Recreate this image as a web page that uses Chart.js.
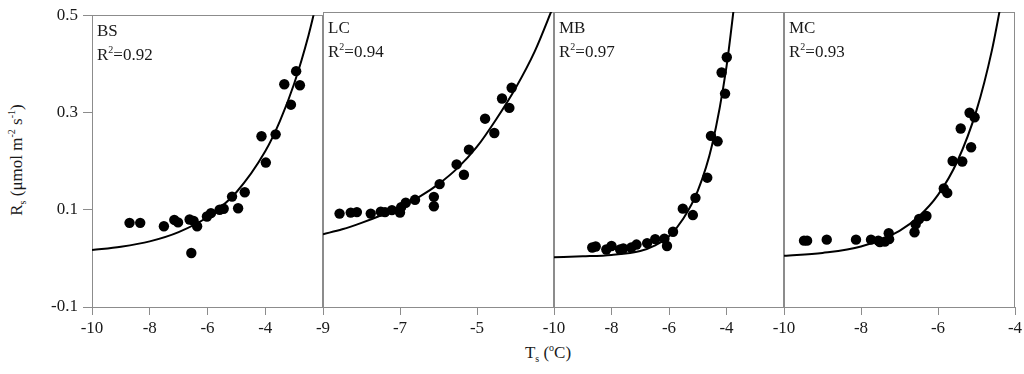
<!DOCTYPE html>
<html>
<head>
<meta charset="utf-8">
<script src="https://cdn.jsdelivr.net/npm/chart.js"></script>
<style>
    body { margin: 0; background: #fff; width: 1024px; height: 374px; overflow: hidden; position: relative; font-family: "Liberation Serif", serif; color: #1a1a1a; }
    canvas { position: absolute; top: 0; }
    #ytitle { position: absolute; left: 17px; top: 160px; transform: translate(-50%, -50%) rotate(-90deg); white-space: nowrap; font-size: 17px; }
    #xtitle { position: absolute; left: 548px; top: 342px; transform: translateX(-50%); white-space: nowrap; font-size: 17px; }
    sub, sup { font-size: 10px; }
</style>
</head>
<body>
<div id="ytitle">R<sub>s</sub> (μmol m<sup>-2</sup> s<sup>-1</sup>)</div>
<div id="xtitle">T<sub>s</sub> (<sup>o</sup>C)</div>
<script>
// soil respiration vs soil temperature, four sites
const siteNames = ['BS', 'LC', 'MB', 'MC'];
const siteR2 = ['0.92', '0.94', '0.97', '0.93'];
const yTicks = [-0.1, 0.1, 0.3, 0.5];

const bsTicks = [-10, -8, -6, -4];
const bsTemp = [-8.70, -8.33, -7.51, -7.15, -7.02, -6.62, -6.48, -6.36, -6.56, -6.02, -5.88, -5.58, -5.44, -5.15, -4.94, -4.71, -4.13, -3.98, -3.64, -3.34, -3.11, -2.93, -2.80];
const bsRs = [0.073, 0.073, 0.066, 0.079, 0.074, 0.080, 0.077, 0.066, 0.011, 0.086, 0.093, 0.100, 0.102, 0.127, 0.103, 0.136, 0.251, 0.197, 0.255, 0.358, 0.316, 0.385, 0.356];
const bsFitT = [-10, -9, -8, -7, -6, -5, -4, -3.5, -3, -2.5, -2.2];
const bsFitRs = [0.017, 0.024, 0.035, 0.054, 0.085, 0.136, 0.220, 0.281, 0.359, 0.459, 0.532];

const lcTicks = [-9, -7, -5];
const lcTemp = [-8.57, -8.28, -8.12, -7.76, -7.50, -7.39, -7.21, -7.00, -6.97, -6.85, -6.61, -6.12, -6.12, -5.97, -5.53, -5.34, -5.21, -4.79, -4.55, -4.35, -4.16, -4.10];
const lcRs = [0.090, 0.092, 0.093, 0.090, 0.094, 0.093, 0.097, 0.092, 0.103, 0.112, 0.118, 0.124, 0.105, 0.150, 0.190, 0.169, 0.220, 0.283, 0.254, 0.324, 0.305, 0.346];
const lcFitT = [-9, -8.5, -8, -7.5, -7, -6.5, -6, -5.5, -5, -4.5, -4, -3.5, -3];
const lcFitRs = [0.048, 0.058, 0.071, 0.086, 0.103, 0.124, 0.150, 0.183, 0.226, 0.282, 0.345, 0.420, 0.515];

const mbTicks = [-10, -8, -6, -4];
const mbTemp = [-8.67, -8.55, -8.18, -8.00, -7.70, -7.59, -7.31, -7.13, -6.76, -6.48, -6.16, -6.07, -5.86, -5.52, -5.17, -5.08, -4.67, -4.54, -4.31, -4.17, -4.05, -3.99];
const mbRs = [0.021, 0.023, 0.017, 0.024, 0.017, 0.019, 0.021, 0.027, 0.030, 0.038, 0.039, 0.024, 0.053, 0.100, 0.087, 0.122, 0.163, 0.248, 0.237, 0.377, 0.334, 0.408];
const mbFitT = [-10, -9, -8, -7, -6.5, -6, -5.5, -5, -4.5, -4, -3.7];
const mbFitRs = [0.001, 0.003, 0.006, 0.014, 0.025, 0.044, 0.080, 0.136, 0.230, 0.389, 0.530];

const mcTicks = [-10, -8, -6, -4];
const mcTemp = [-9.48, -9.40, -8.89, -8.13, -7.74, -7.55, -7.51, -7.38, -7.28, -7.27, -6.61, -6.58, -6.49, -6.30, -5.85, -5.76, -5.62, -5.37, -5.41, -5.14, -5.18, -5.05];
const mcRs = [0.035, 0.035, 0.037, 0.037, 0.037, 0.035, 0.032, 0.033, 0.050, 0.038, 0.052, 0.068, 0.079, 0.085, 0.141, 0.132, 0.197, 0.196, 0.263, 0.225, 0.295, 0.286];
const mcFitT = [-10, -9, -8, -7, -6.5, -6, -5.5, -5, -4.6, -4.3];
const mcFitRs = [0.004, 0.010, 0.023, 0.055, 0.084, 0.128, 0.196, 0.300, 0.422, 0.544];

const panels = [
    { temp: bsTemp, rs: bsRs, fitT: bsFitT, fitRs: bsFitRs, ticks: bsTicks, min: -10, max: -2 },
    { temp: lcTemp, rs: lcRs, fitT: lcFitT, fitRs: lcFitRs, ticks: lcTicks, min: -9, max: -3 },
    { temp: mbTemp, rs: mbRs, fitT: mbFitT, fitRs: mbFitRs, ticks: mbTicks, min: -10, max: -2 },
    { temp: mcTemp, rs: mcRs, fitT: mcFitT, fitRs: mcFitRs, ticks: mcTicks, min: -10, max: -4 }
];

// plot-area edges in page pixels
const plotLeft = [92, 323, 554, 784];
const plotRight = [323, 554, 784, 1015];
const axisGray = '#8c8c8c';
const font = { family: '"Liberation Serif", serif', size: 17 };

const panelFrame = {
    id: 'panelFrame',
    beforeDatasetsDraw(chart, args, opts) {
        const a = chart.chartArea;
        const c = chart.ctx;
        c.save();
        c.strokeStyle = axisGray;
        c.lineWidth = 1;
        c.strokeRect(Math.round(a.left) + 0.5, Math.round(a.top) + 0.5, Math.round(a.right - a.left) - 1, Math.round(a.bottom - a.top));
        c.fillStyle = '#1a1a1a';
        c.font = '17px "Liberation Serif", serif';
        c.textBaseline = 'alphabetic';
        const x = a.left + 5;
        c.fillText(opts.name, x, a.top + 21);
        c.fillText('R', x, a.top + 45);
        const w = c.measureText('R').width;
        c.font = '10px "Liberation Serif", serif';
        c.fillText('2', x + w, a.top + 38);
        const w2 = c.measureText('2').width;
        c.font = '17px "Liberation Serif", serif';
        c.fillText('=' + opts.r2, x + w + w2, a.top + 45);
        c.restore();
    }
};

panels.forEach((p, i) => {
    const canvas = document.createElement('canvas');
    const left = i === 0 ? 0 : plotLeft[i] - 20;
    const width = plotRight[i] + 20 - left;
    canvas.width = width;
    canvas.height = 374;
    canvas.style.left = left + 'px';
    canvas.style.width = width + 'px';
    canvas.style.height = '374px';
    document.body.appendChild(canvas);

    new Chart(canvas, {
        type: 'scatter',
        data: {
            datasets: [{
                data: p.temp.map((t, k) => ({ x: t, y: p.rs[k] })),
                backgroundColor: '#000',
                borderWidth: 0,
                pointRadius: 5.2,
                order: 1
            },
            {
                data: p.fitT.map((t, k) => ({ x: t, y: p.fitRs[k] })),
                showLine: true,
                borderColor: '#000',
                borderWidth: 2,
                pointRadius: 0,
                cubicInterpolationMode: 'monotone',
                order: 2
            }]
        },
        options: {
            responsive: false,
            animation: false,
            layout: { padding: { left: i === 0 ? 0 : 20, right: 20, top: 12, bottom: 0 } },
            plugins: {
                legend: { display: false },
                tooltip: { enabled: false },
                panelFrame: { name: siteNames[i], r2: siteR2[i] }
            },
            scales: {
                x: {
                    type: 'linear',
                    min: p.min,
                    max: p.max,
                    afterBuildTicks: s => { s.ticks = p.ticks.map(v => ({ value: v })); },
                    afterFit: s => { s.height = 67; },
                    ticks: { color: '#1a1a1a', font: font, padding: 3, maxRotation: 0, callback: v => String(v) },
                    grid: { drawOnChartArea: false, drawTicks: true, tickLength: 8, color: axisGray },
                    border: { display: false }
                },
                y: {
                    display: i === 0,
                    min: -0.1,
                    max: 0.5,
                    afterBuildTicks: s => { s.ticks = yTicks.map(v => ({ value: v })); },
                    afterFit: s => { s.width = i === 0 ? 92 : 0; },
                    ticks: { color: '#1a1a1a', font: font, padding: 5, callback: v => v.toFixed(1) },
                    grid: { drawOnChartArea: false, drawTicks: true, tickLength: 9, color: axisGray },
                    border: { display: false }
                }
            }
        },
        plugins: [panelFrame]
    });
});
</script>
</body>
</html>
